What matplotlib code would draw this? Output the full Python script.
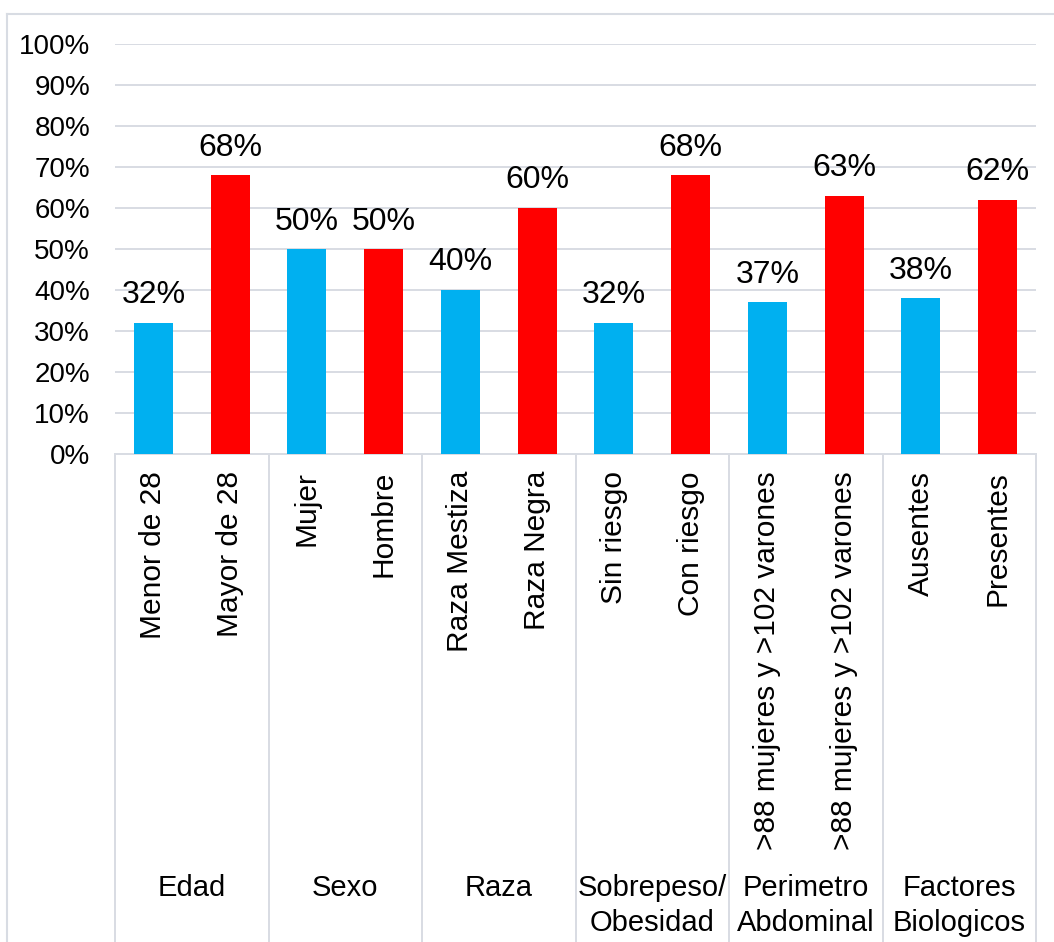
import matplotlib.pyplot as plt
from matplotlib.lines import Line2D

plt.rcParams['font.family'] = ['Liberation Sans', 'DejaVu Sans']

categorias = ["Menor de 28", "Mayor de 28", "Mujer", "Hombre",
              "Raza Mestiza", "Raza Negra", "Sin riesgo", "Con riesgo",
              ">88 mujeres y >102 varones", ">88 mujeres y >102 varones",
              "Ausentes", "Presentes"]
valores = [32, 68, 50, 50, 40, 60, 32, 68, 37, 63, 38, 62]
grupos = ["Edad", "Sexo", "Raza", "Sobrepeso/\nObesidad",
          "Perimetro\nAbdominal", "Factores\nBiologicos"]
ticks_y = [0, 10, 20, 30, 40, 50, 60, 70, 80, 90, 100]

AZUL = "#00B0F0"
ROJO = "#FF0000"
GRIS = "#d8dce3"

W, H = 1054, 942
fig = plt.figure(figsize=(W / 100, H / 100), dpi=100)
ax = fig.add_axes([115 / W, 1 - 454 / H, (1036 - 115) / W, (454 - 44) / H])

x = list(range(len(valores)))
colores = [AZUL if i % 2 == 0 else ROJO for i in x]
barras = ax.bar(x, valores, width=0.51, color=colores, zorder=3)

for b, v in zip(barras, valores):
    ax.annotate(f"{v}%", (b.get_x() + b.get_width() / 2, v),
                xytext=(0, 9), textcoords="offset points",
                ha="center", va="bottom", fontsize=23)

ax.set_xlim(-0.5, len(valores) - 0.5)
ax.set_ylim(0, 100)
ax.set_yticks(ticks_y)
ax.set_yticklabels([f"{t}%" for t in ticks_y], fontsize=20)
ax.tick_params(axis="y", length=0, pad=18)
ax.set_xticks([])
ax.yaxis.grid(True, color=GRIS, linewidth=1.4, zorder=0)
for s in ["top", "right", "left"]:
    ax.spines[s].set_visible(False)
ax.spines["bottom"].set_color(GRIS)
ax.spines["bottom"].set_linewidth(1.4)

# categorias giradas bajo el eje
trans = ax.get_xaxis_transform()
alto = 454 - 44
for i, c in enumerate(categorias):
    ax.text(i, -17 / alto, c, transform=trans, rotation=90,
            ha="center", va="top", fontsize=21.5)

# nombres de grupo y separadores
for g, nombre in enumerate(grupos):
    ax.text(2 * g + 0.5, (454 - 874) / alto, nombre, transform=trans,
            ha="center", va="top", fontsize=21, linespacing=1.3)
for k in range(len(grupos) + 1):
    xs = 2 * k - 0.5
    ax.add_line(Line2D([xs, xs], [0, (454 - 960) / alto], transform=trans,
                       color=GRIS, linewidth=1.4, clip_on=False))

# borde exterior del grafico
fig.add_artist(Line2D([7 / W, 7 / W], [1 - 14 / H, 0], color=GRIS, linewidth=1.5))
fig.add_artist(Line2D([7 / W, 1], [1 - 14 / H, 1 - 14 / H], color=GRIS, linewidth=1.5))

fig.savefig("out.png", dpi=100, facecolor="white")
